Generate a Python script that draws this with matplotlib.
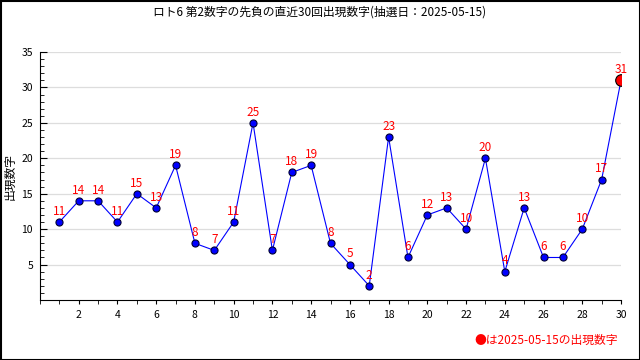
import matplotlib
matplotlib.use('Agg')
import matplotlib.pyplot as plt
from matplotlib.ticker import MultipleLocator
from matplotlib.patches import Rectangle

plt.rcParams['font.family'] = ['Noto Sans CJK JP', 'DejaVu Sans']

draws = list(range(1, 31))
numbers = [11, 14, 14, 11, 15, 13, 19, 8, 7, 11, 25, 7, 18, 19, 8,
           5, 2, 23, 6, 12, 13, 10, 20, 4, 13, 6, 6, 10, 17, 31]
title = 'ロト6 第2数字の先負の直近30回出現数字(抽選日：2025-05-15)'
ylabel = '出現数字'
note = '●は2025-05-15の出現数字'

fig = plt.figure(figsize=(6.4, 3.6), dpi=100)
ax = fig.add_axes([40/640, 60/360, 581/640, 248/360])

ax.plot(draws, numbers, color='blue', lw=0.8, zorder=2)
ax.scatter(draws[:-1], numbers[:-1], s=26, color='blue', edgecolors='#000033',
           linewidths=0.8, zorder=3)
ax.scatter(draws[-1:], numbers[-1:], s=70, color='red', edgecolors='black',
           linewidths=0.8, zorder=4)
for x, y in zip(draws, numbers):
    ax.annotate(str(y), (x, y), xytext=(0, 3), textcoords='offset points',
                ha='center', va='bottom', color='red', fontsize=8.5)

ax.set_xlim(0, 30)
ax.set_ylim(0, 35)
ax.set_xticks(range(2, 31, 2))
ax.xaxis.set_minor_locator(MultipleLocator(1))
ax.set_yticks([5, 10, 15, 20, 25, 30, 35])
ax.yaxis.set_minor_locator(MultipleLocator(1))
ax.grid(axis='y', color='#dddddd', lw=0.9, zorder=0)
ax.tick_params(axis='y', which='both', direction='in', labelsize=7.5, pad=5)
ax.tick_params(axis='y', which='major', length=5)
ax.tick_params(axis='y', which='minor', length=3)
ax.tick_params(axis='x', which='both', direction='out', length=3,
               labelsize=7.5, pad=4)
ax.spines['top'].set_visible(False)
ax.spines['right'].set_visible(False)

fig.text(10/640, 1 - 176/360, ylabel, rotation=90, ha='center', va='center',
         fontsize=8.5)
fig.suptitle(title, y=1 - 12/360, va='center', fontsize=8.5)
fig.text(618/640, 1 - 340/360, note, ha='right', va='center',
         color='red', fontsize=8.5)
fig.patches.append(Rectangle((0.5/640, 0.5/360), 639/640, 359/360,
                             transform=fig.transFigure, fill=False,
                             edgecolor='black', lw=1.5))

fig.savefig('out.png', dpi=100)
